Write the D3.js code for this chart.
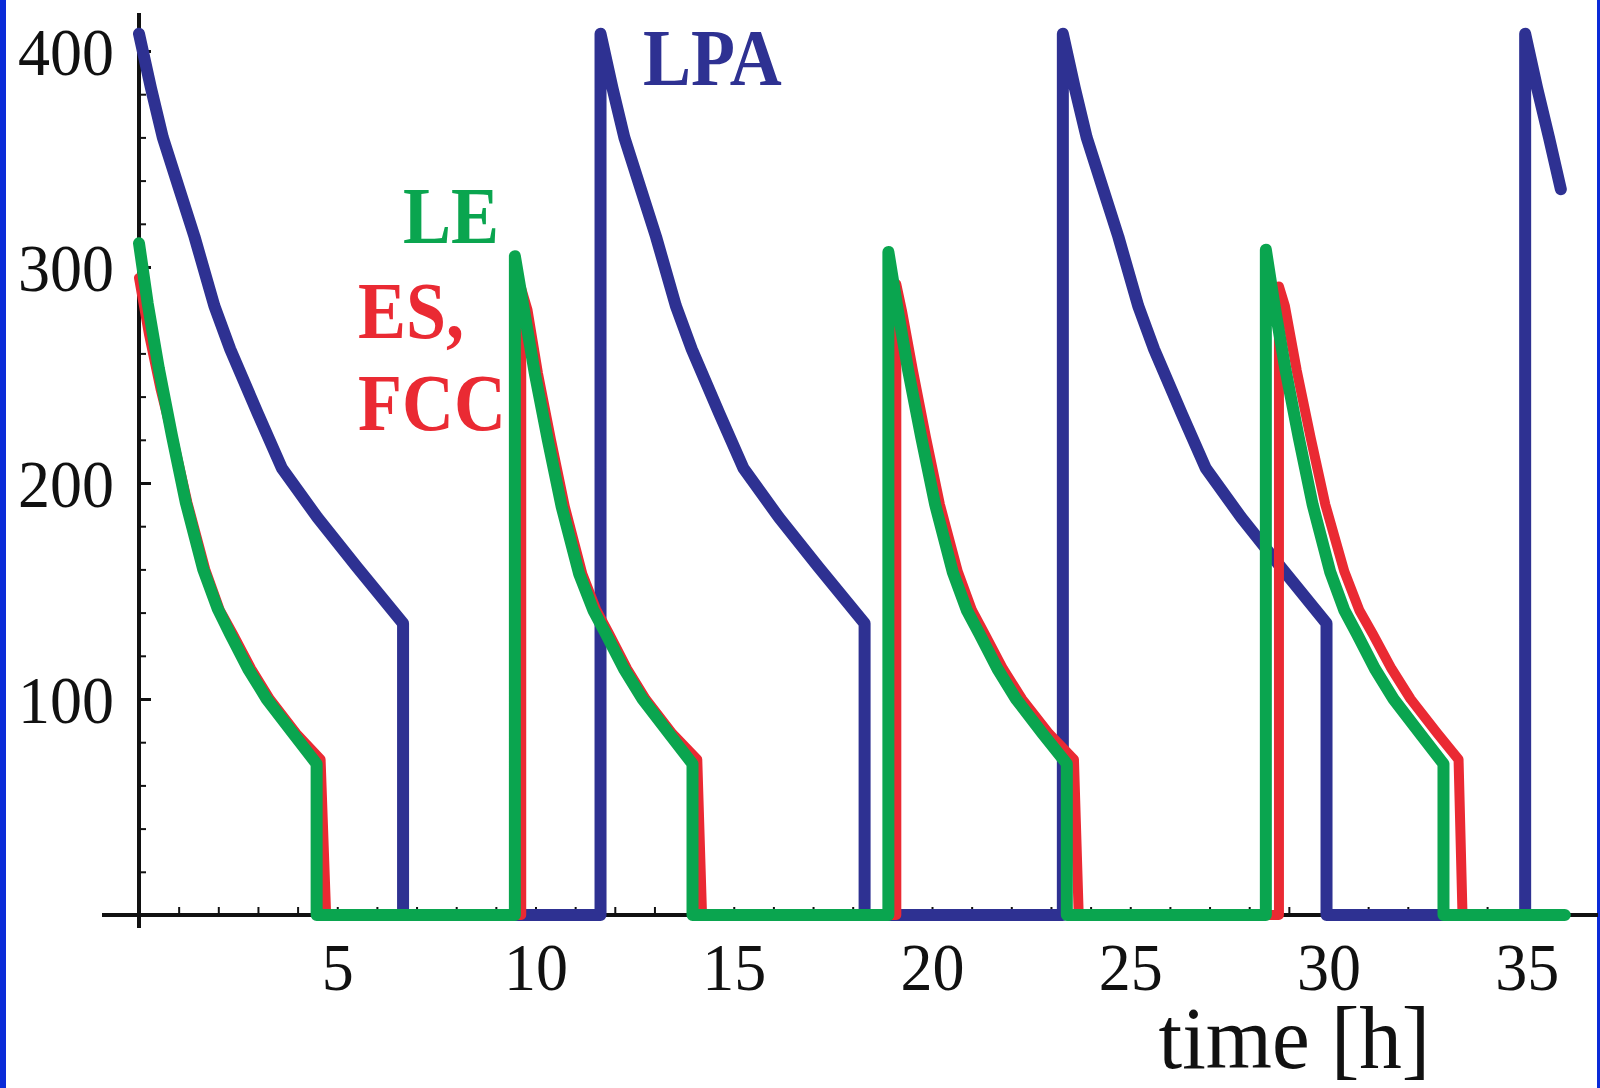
<!DOCTYPE html>
<html>
<head>
<meta charset="utf-8">
<script src="https://cdn.jsdelivr.net/npm/d3@7"></script>
<style>
  html, body { margin: 0; padding: 0; background: #fff; }
  svg { display: block; }
</style>
</head>
<body>
<div id="chart"></div>
<script>
// LPA (blue)
const lpaTime = [0, 0.3, 0.6, 1.0, 1.4, 1.9, 2.3, 3.0, 3.6, 4.5, 5.5, 6.66, 6.66,
  11.64, 11.64, 11.94, 12.24, 12.64, 13.04, 13.54, 13.94, 14.64, 15.24, 16.14, 17.14, 18.3, 18.3,
  23.3, 23.3, 23.6, 23.9, 24.3, 24.7, 25.2, 25.6, 26.3, 26.9, 27.8, 28.8, 29.95, 29.95,
  34.96, 34.96, 35.26, 35.56, 35.86];
const lpaValue = [408, 383, 360, 337, 314, 282, 262, 232, 207, 184, 161, 135, 0,
  0, 408, 383, 360, 337, 314, 282, 262, 232, 207, 184, 161, 135, 0,
  0, 408, 383, 360, 337, 314, 282, 262, 232, 207, 184, 161, 135, 0,
  0, 408, 383, 360, 336];

// ES, FCC (red)
const esTime = [0, 0.25, 0.55, 0.85, 1.22, 1.67, 2.04, 2.37, 2.83, 3.30, 3.97, 4.58, 4.72,
  9.64, 9.64, 9.80, 10.06, 10.39, 10.74, 11.18, 11.54, 11.86, 12.31, 12.78, 13.45, 14.08, 14.2,
  19.1, 19.1, 19.24, 19.52, 19.85, 20.20, 20.65, 21.01, 21.33, 21.79, 22.27, 22.95, 23.58, 23.7,
  28.75, 28.75, 28.90, 29.20, 29.55, 29.92, 30.40, 30.78, 31.12, 31.59, 32.07, 32.75, 33.28, 33.38,
  35.9];
const esValue = [295, 269, 243, 221, 191, 160, 141, 130, 114, 100, 84, 72, 0,
  0, 290, 280, 251, 220, 189, 158, 141, 130, 114, 100, 84, 72, 0,
  0, 292, 280, 252, 221, 190, 159, 141, 130, 114, 100, 84, 72, 0,
  0, 291, 282, 252, 221, 190, 159, 141, 130, 114, 100, 84, 72, 0,
  0];

// LE (green)
const leTime = [0, 0.22, 0.5, 0.83, 1.18, 1.62, 1.98, 2.3, 2.75, 3.22, 3.89, 4.48, 4.48,
  9.48, 9.48, 9.70, 9.98, 10.31, 10.66, 11.10, 11.46, 11.78, 12.23, 12.70, 13.37, 13.96, 13.96,
  18.9, 18.9, 19.12, 19.40, 19.73, 20.08, 20.52, 20.88, 21.20, 21.65, 22.12, 22.79, 23.40, 23.40,
  28.42, 28.42, 28.64, 28.92, 29.25, 29.60, 30.04, 30.40, 30.72, 31.17, 31.64, 32.31, 32.90, 32.90,
  35.96];
const leValue = [311, 283, 253, 222, 191, 160, 142, 130, 114, 100, 84, 70, 0,
  0, 305, 281, 251, 220, 189, 158, 141, 130, 114, 100, 84, 70, 0,
  0, 307, 282, 252, 221, 190, 159, 141, 130, 114, 100, 84, 70, 0,
  0, 308, 282, 252, 221, 190, 159, 141, 130, 114, 100, 84, 70, 0,
  0];

const xTickLabels = [5, 10, 15, 20, 25, 30, 35];
const yTickLabels = [100, 200, 300, 400];

const W = 1600, H = 1088;
const serif = "'Liberation Serif', 'Times New Roman', serif";

const svg = d3.select("#chart").append("svg")
  .attr("width", W).attr("height", H);

// blue frame strips
svg.append("rect").attr("x", 0).attr("y", 0).attr("width", 6).attr("height", H).attr("fill", "#0a2bd8");
svg.append("rect").attr("x", 1597).attr("y", 0).attr("width", 3).attr("height", H).attr("fill", "#0a2bd8");

const x = d3.scaleLinear().domain([0, 35]).range([139, 139 + 35 * 39.65]);
const y = d3.scaleLinear().domain([0, 400]).range([915, 51]);

// axes lines
svg.append("line").attr("x1", 102).attr("x2", 1598).attr("y1", y(0)).attr("y2", y(0))
  .attr("stroke", "#111").attr("stroke-width", 4);
svg.append("line").attr("x1", x(0)).attr("x2", x(0)).attr("y1", 13).attr("y2", 928)
  .attr("stroke", "#111").attr("stroke-width", 4);

// x axis ticks (pointing up)
const xAxis = svg.append("g")
  .attr("transform", `translate(0,${y(0)})`)
  .call(d3.axisBottom(x).tickValues(d3.range(1, 36)).tickSize(-8)
    .tickFormat(d => xTickLabels.includes(d) ? d : ""));
xAxis.select(".domain").remove();
xAxis.selectAll(".tick line").attr("stroke", "#111").attr("stroke-width", 2);
xAxis.selectAll(".tick text")
  .attr("y", 0).attr("dy", null)
  .attr("transform", "translate(0,75) scale(1,1.07)")
  .attr("fill", "#111")
  .style("font-family", serif).style("font-size", "64px");

// y axis ticks (pointing right)
const yAxis = svg.append("g")
  .attr("transform", `translate(${x(0)},0)`)
  .call(d3.axisLeft(y).tickValues(d3.range(20, 401, 20)).tickSize(-7)
    .tickFormat(d => yTickLabels.includes(d) ? d : ""));
yAxis.select(".domain").remove();
yAxis.selectAll(".tick line")
  .attr("stroke", "#111")
  .attr("stroke-width", d => yTickLabels.includes(d) ? 3 : 2)
  .attr("x2", d => yTickLabels.includes(d) ? 12 : 7);
yAxis.selectAll(".tick text")
  .attr("x", 0).attr("dy", null)
  .attr("transform", "translate(-25,23) scale(1,1.07)")
  .attr("fill", "#111")
  .style("font-family", serif).style("font-size", "64px");

// curves
const line = d3.line().x(d => x(d[0])).y(d => y(d[1]));
const series = [
  { t: lpaTime, v: lpaValue, color: "#2e3192", w: 12 },
  { t: esTime, v: esValue, color: "#ea2a33", w: 10 },
  { t: leTime, v: leValue, color: "#0aa54f", w: 12 }
];
series.forEach(s => {
  svg.append("path")
    .datum(d3.zip(s.t, s.v))
    .attr("d", line)
    .attr("fill", "none")
    .attr("stroke", s.color)
    .attr("stroke-width", s.w)
    .attr("stroke-linejoin", "round")
    .attr("stroke-linecap", "round");
});

// series labels
function label(text, px, py, color) {
  svg.append("text")
    .attr("transform", `translate(${px},${py}) scale(1,1.12)`)
    .attr("fill", color)
    .style("font-family", serif).style("font-weight", "bold").style("font-size", "72px")
    .text(text);
}
label("LPA", 643, 85, "#2e3192");
label("LE", 403, 243, "#0aa54f");
label("ES,", 358, 338, "#ea2a33");
label("FCC", 358, 430, "#ea2a33");

// axis title
svg.append("text")
  .attr("transform", "translate(1430,1068) scale(1,1.04)")
  .attr("text-anchor", "end")
  .attr("fill", "#111")
  .style("font-family", serif).style("font-size", "85px")
  .text("time [h]");
</script>
</body>
</html>
